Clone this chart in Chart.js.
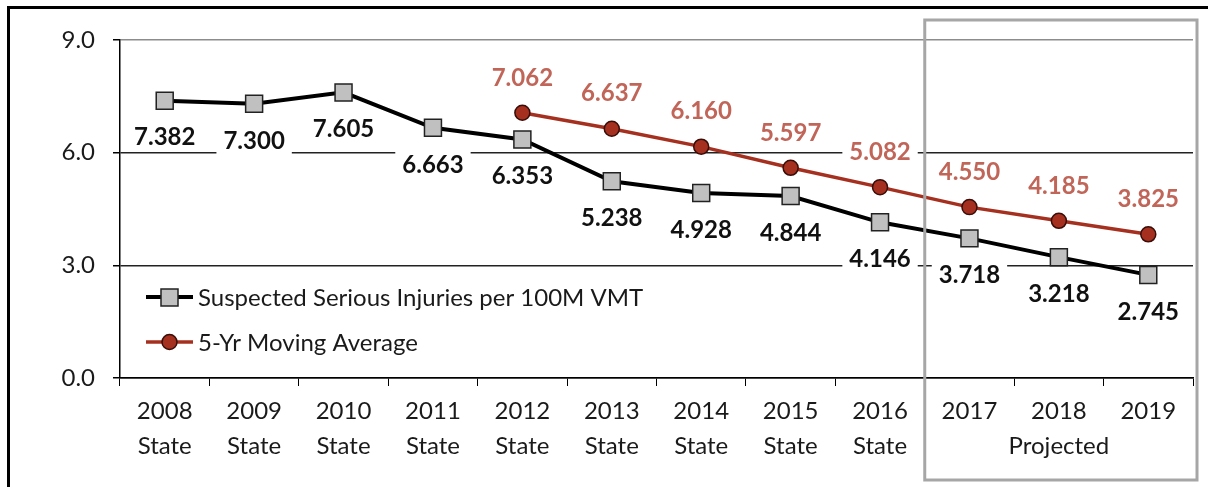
<!DOCTYPE html>
<html lang="en">
<head>
  <meta charset="UTF-8">
  <title>Suspected Serious Injuries per 100M VMT</title>
  <script src="https://cdn.jsdelivr.net/npm/chart.js"></script>
  <style>
    body { margin: 0; background: #fff; overflow: hidden; }
    .frame {
      position: absolute;
      left: 7px; top: 6px;
      width: 1400px; height: 700px;
      border: 3px solid #000;
    }
    canvas { position: absolute; left: 0; top: 0; }
  </style>
</head>
<body>
<div class="frame"></div>
<canvas id="myChart" width="1208" height="487"></canvas>

<script>
  // Data
  const years = ['2008', '2009', '2010', '2011', '2012', '2013', '2014', '2015', '2016', '2017', '2018', '2019'];
  const subLabels = ['State', 'State', 'State', 'State', 'State', 'State', 'State', 'State', 'State', '', 'Projected', ''];
  const injuries = [7.382, 7.300, 7.605, 6.663, 6.353, 5.238, 4.928, 4.844, 4.146, 3.718, 3.218, 2.745];
  const movingAvg = [null, null, null, null, 7.062, 6.637, 6.160, 5.597, 5.082, 4.550, 4.185, 3.825];
  const yTicks = [0, 3, 6, 9];

  const FONT = 'Lato, "Open Sans", sans-serif';
  const RED = '#a5301f';
  const RED_LABEL = '#c06558';

  // Value labels with white boxes, like the Excel data labels
  const valueLabels = {
    id: 'valueLabels',
    afterDatasetsDraw(chart) {
      const ctx = chart.ctx;
      ctx.save();
      ctx.font = 'bold 24px ' + FONT;
      ctx.textAlign = 'center';
      ctx.textBaseline = 'middle';
      chart.data.datasets.forEach((ds, i) => {
        const meta = chart.getDatasetMeta(i);
        const dy = i === 0 ? 36 : -36;
        meta.data.forEach((pt, j) => {
          const v = ds.data[j];
          if (v === null) return;
          const txt = v.toFixed(3);
          const w = ctx.measureText(txt).width + 14;
          const x = pt.x, y = pt.y + dy;
          ctx.fillStyle = '#fff';
          ctx.fillRect(x - w / 2, y - 15, w, 30);
          ctx.fillStyle = i === 0 ? '#111' : RED_LABEL;
          ctx.fillText(txt, x, y + 1);
        });
      });
      ctx.restore();
    }
  };

  // Gray "Projected" box and the inside legend
  const extras = {
    id: 'extras',
    afterDraw(chart) {
      const ctx = chart.ctx;
      const xs = chart.scales.x;
      const left = (xs.getPixelForValue(8) + xs.getPixelForValue(9)) / 2;
      ctx.save();
      ctx.strokeStyle = '#a6a6a6';
      ctx.lineWidth = 3;
      ctx.strokeRect(left, 20, 1197 - left, 460);

      // legend
      const items = [
        { text: 'Suspected Serious Injuries per 100M VMT', color: '#000', y: 297, rect: true },
        { text: '5-Yr Moving Average', color: RED, y: 342, rect: false }
      ];
      items.forEach(it => {
        ctx.strokeStyle = it.color;
        ctx.lineWidth = it.rect ? 4 : 3.5;
        ctx.beginPath();
        ctx.moveTo(146, it.y);
        ctx.lineTo(193, it.y);
        ctx.stroke();
        ctx.lineWidth = 1.5;
        if (it.rect) {
          ctx.fillStyle = '#c0c0c0';
          ctx.strokeStyle = '#222';
          ctx.fillRect(161, it.y - 8, 17, 17);
          ctx.strokeRect(161, it.y - 8, 17, 17);
        } else {
          ctx.fillStyle = RED;
          ctx.strokeStyle = '#3a0d08';
          ctx.beginPath();
          ctx.arc(169.5, it.y, 7.5, 0, Math.PI * 2);
          ctx.fill();
          ctx.stroke();
        }
        ctx.fillStyle = '#1a1a1a';
        ctx.font = '24px ' + FONT;
        ctx.textAlign = 'left';
        ctx.textBaseline = 'middle';
        ctx.fillText(it.text, 198, it.y + 1);
      });
      ctx.restore();
    }
  };

  const ctx = document.getElementById('myChart').getContext('2d');

  const config = {
    type: 'line',
    data: {
      labels: years.map((y, i) => [y, subLabels[i]]),
      datasets: [{
        label: 'Suspected Serious Injuries per 100M VMT',
        data: injuries,
        borderColor: '#000',
        borderWidth: 4,
        pointStyle: 'rect',
        pointRadius: 12,
        pointBackgroundColor: '#c0c0c0',
        pointBorderColor: '#222',
        pointBorderWidth: 1.5,
        tension: 0
      }, {
        label: '5-Yr Moving Average',
        data: movingAvg,
        borderColor: RED,
        borderWidth: 3.5,
        pointStyle: 'circle',
        pointRadius: 7.5,
        pointBackgroundColor: RED,
        pointBorderColor: '#3a0d08',
        pointBorderWidth: 1.5,
        tension: 0
      }]
    },
    options: {
      responsive: false,
      animation: false,
      devicePixelRatio: 1,
      layout: { padding: { top: 40, right: 15, left: 0, bottom: 0 } },
      plugins: {
        legend: { display: false },
        tooltip: { enabled: false }
      },
      scales: {
        x: {
          offset: true,
          grid: {
            offset: true,
            drawOnChartArea: false,
            drawTicks: true,
            tickLength: 8,
            tickColor: '#000'
          },
          border: { display: true, color: '#000', width: 1.5 },
          ticks: {
            color: '#1a1a1a',
            font: { family: FONT, size: 24, lineHeight: 1.46 },
            padding: 8,
            maxRotation: 0,
            autoSkip: false
          },
          afterFit(scale) { scale.height = 109; }
        },
        y: {
          min: 0,
          max: 9,
          afterBuildTicks(scale) { scale.ticks = yTicks.map(v => ({ value: v })); },
          grid: {
            color: ctx => ctx.tick && ctx.tick.value === 9 ? '#8c8c8c' : '#222',
            lineWidth: 1.5,
            tickLength: 7,
            tickColor: '#000'
          },
          border: { display: true, color: '#000', width: 1.5 },
          ticks: {
            color: '#1a1a1a',
            font: { family: FONT, size: 24 },
            padding: 18,
            callback: v => v.toFixed(1)
          },
          afterFit(scale) { scale.width = 120; }
        }
      }
    },
    plugins: [valueLabels, extras]
  };

  window.myChartInstance = new Chart(ctx, config);
</script>
</body>
</html>
